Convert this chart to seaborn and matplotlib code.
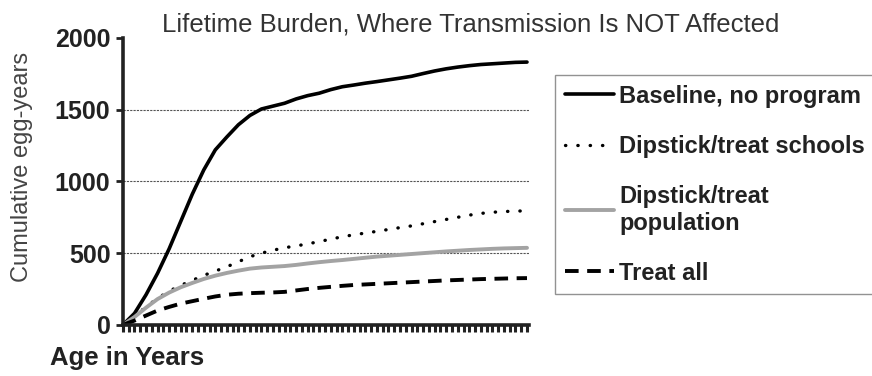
import matplotlib
matplotlib.use("Agg")
import matplotlib.pyplot as plt
import seaborn as sns
import pandas as pd

# ages sampled every 2 years (category axis has one tick per year)
ages = list(range(0, 71, 2))

baseline = [0, 80, 210, 360, 530, 720, 910, 1080, 1220, 1310, 1395, 1460,
            1505, 1525, 1545, 1575, 1598, 1615, 1640, 1660, 1672, 1685, 1696,
            1708, 1720, 1733, 1752, 1770, 1785, 1797, 1807, 1815, 1820, 1825,
            1830, 1832]
schools = [0, 60, 125, 185, 235, 275, 310, 345, 375, 405, 440, 475, 500, 520,
           538, 550, 565, 580, 598, 614, 628, 640, 652, 665, 678, 690, 705,
           720, 735, 750, 765, 777, 785, 790, 793, 795]
population = [0, 55, 120, 180, 225, 262, 292, 320, 343, 362, 378, 392, 400,
              405, 410, 418, 428, 437, 445, 452, 460, 468, 476, 482, 488, 494,
              500, 506, 512, 517, 522, 526, 530, 533, 535, 537]
treat_all = [0, 30, 65, 100, 125, 148, 165, 182, 198, 210, 217, 221, 224, 226,
             230, 240, 250, 258, 265, 272, 278, 282, 286, 290, 294, 298, 302,
             306, 310, 313, 316, 319, 321, 323, 325, 326]

labels = ["Baseline, no program", "Dipstick/treat schools",
          "Dipstick/treat\npopulation", "Treat all"]
yticks = [0, 500, 1000, 1500, 2000]

sns.set_style("white")
plt.rcParams['font.family'] = ['Liberation Sans', 'DejaVu Sans']

fig = plt.figure(figsize=(8.72, 3.76), dpi=100)
ax = fig.add_axes([0.141, 0.136, 0.466, 0.763])

df = pd.DataFrame({"age": ages, "baseline": baseline, "schools": schools,
                   "population": population, "treat_all": treat_all})

sns.lineplot(data=df, x="age", y="baseline", ax=ax, color="black", lw=2.6,
             label=labels[0])
sns.lineplot(data=df, x="age", y="schools", ax=ax, color="black", lw=2.4,
             linestyle=(0, (0.1, 3.6)), dash_capstyle="round", label=labels[1])
sns.lineplot(data=df, x="age", y="population", ax=ax, color="#a3a3a3", lw=2.8,
             label=labels[2])
sns.lineplot(data=df, x="age", y="treat_all", ax=ax, color="black", lw=2.8,
             linestyle=(0, (3.5, 2.2)), label=labels[3])

ax.set_xlim(0, 70.4)
ax.set_ylim(0, 2000)
ax.set_yticks(yticks)
ax.set_yticklabels([str(v) for v in yticks], fontsize=18, fontweight="bold",
                   color="#222222")
ax.set_xticks(range(0, 71))
ax.set_xticklabels([])
ax.tick_params(axis="x", bottom=True, direction="out", length=5, width=2.2,
               color="#222222")
ax.tick_params(axis="y", left=True, direction="out", length=5, width=2,
               color="#222222", pad=4)

for y in yticks[1:-1]:
    ax.axhline(y, color="#555555", lw=0.8, ls=(0, (2, 1)), zorder=0)

for s in ["top", "right"]:
    ax.spines[s].set_visible(False)
ax.spines["left"].set_linewidth(2.6)
ax.spines["bottom"].set_linewidth(2.6)
ax.spines["left"].set_color("#222222")
ax.spines["bottom"].set_color("#222222")

ax.set_xlabel("")
ax.set_ylabel("Cumulative egg-years", fontsize=17, color="#444444")
ax.yaxis.set_label_coords(-0.222, 0.55)
fig.text(0.54, 0.934, "Lifetime Burden, Where Transmission Is NOT Affected",
         ha="center", va="center", fontsize=18.5, color="#333333")
fig.text(0.057, 0.048, "Age in Years", ha="left", va="center", fontsize=18.5,
         fontweight="bold", color="#222222")

leg = ax.legend(loc="upper left", bbox_to_anchor=(0.637, 0.80),
                bbox_transform=fig.transFigure, frameon=True, fancybox=False,
                handlelength=2.1, handletextpad=0.2, labelspacing=1.15,
                borderpad=0.4, borderaxespad=0,
                prop={"size": 17, "weight": "bold"})
leg.get_frame().set_edgecolor("#777777")
leg.get_frame().set_linewidth(1.0)
for t in leg.get_texts():
    t.set_color("#222222")

fig.savefig("out.png", dpi=100)
